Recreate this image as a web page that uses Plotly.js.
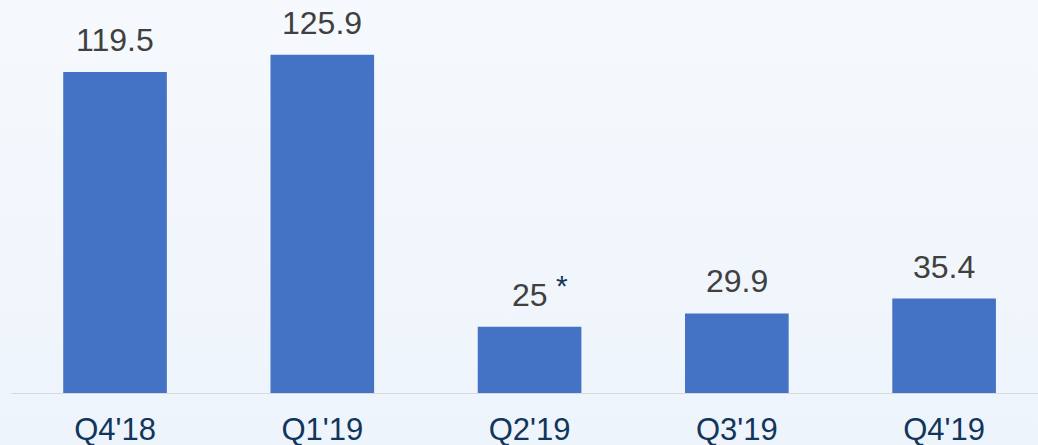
<!DOCTYPE html>
<html>
<head>
<meta charset="utf-8">
<script src="https://cdn.plot.ly/plotly-3.0.1.min.js"></script>
<style>
  html, body { margin: 0; padding: 0; }
  body { width: 1038px; height: 445px; overflow: hidden;
         background: linear-gradient(to bottom, #f6f9fd 0%, #eef4fc 100%); }
  #chart { width: 1038px; height: 445px; }
</style>
</head>
<body>
<div id="chart"></div>
<script>
// quarters and values
var quarters = ["Q4'18", "Q1'19", "Q2'19", "Q3'19", "Q4'19"];
var values = [119.5, 125.9, 25, 29.9, 35.4];
var valueLabels = ['119.5', '125.9', '25', '29.9', '35.4'];
var footnoted = ["Q2'19"]; // these carry a "*"

var trace = {
  x: quarters,
  y: values,
  type: 'bar',
  width: 0.5,
  marker: { color: '#4472c4' },
  hoverinfo: 'skip'
};

// value labels above bars
var annotations = quarters.map(function (q, i) {
  return {
    x: q, y: values[i], xref: 'x', yref: 'y',
    text: valueLabels[i],
    showarrow: false,
    yanchor: 'bottom',
    yshift: 12,
    font: { family: 'Liberation Sans, Arial, sans-serif', size: 32, color: '#404040' }
  };
});
footnoted.forEach(function (q) {
  var i = quarters.indexOf(q);
  annotations.push({
    x: q, y: values[i], xref: 'x', yref: 'y',
    text: '*',
    showarrow: false,
    yanchor: 'bottom',
    xshift: 32,
    yshift: 23,
    font: { family: 'Liberation Sans, Arial, sans-serif', size: 30, color: '#12355b' }
  });
});

var layout = {
  width: 1038,
  height: 445,
  margin: { l: 0, r: 0, t: 0, b: 51 },
  paper_bgcolor: 'rgba(0,0,0,0)',
  plot_bgcolor: 'rgba(0,0,0,0)',
  showlegend: false,
  xaxis: {
    type: 'category',
    range: [-0.555, 4.453],
    showgrid: false,
    zeroline: false,
    showline: false,
    ticks: '',
    ticklabelstandoff: 14,
    tickfont: { family: 'Liberation Sans, Arial, sans-serif', size: 31, color: '#12355b' },
    fixedrange: true
  },
  yaxis: {
    range: [0, 146.2],
    visible: false,
    fixedrange: true
  },
  shapes: [{
    type: 'line', xref: 'x', yref: 'y',
    x0: -0.5, x1: 4.453, y0: 0, y1: 0,
    line: { color: '#d9d9d9', width: 2 }
  }],
  annotations: annotations
};

Plotly.newPlot('chart', [trace], layout, { staticPlot: true });
</script>
</body>
</html>
